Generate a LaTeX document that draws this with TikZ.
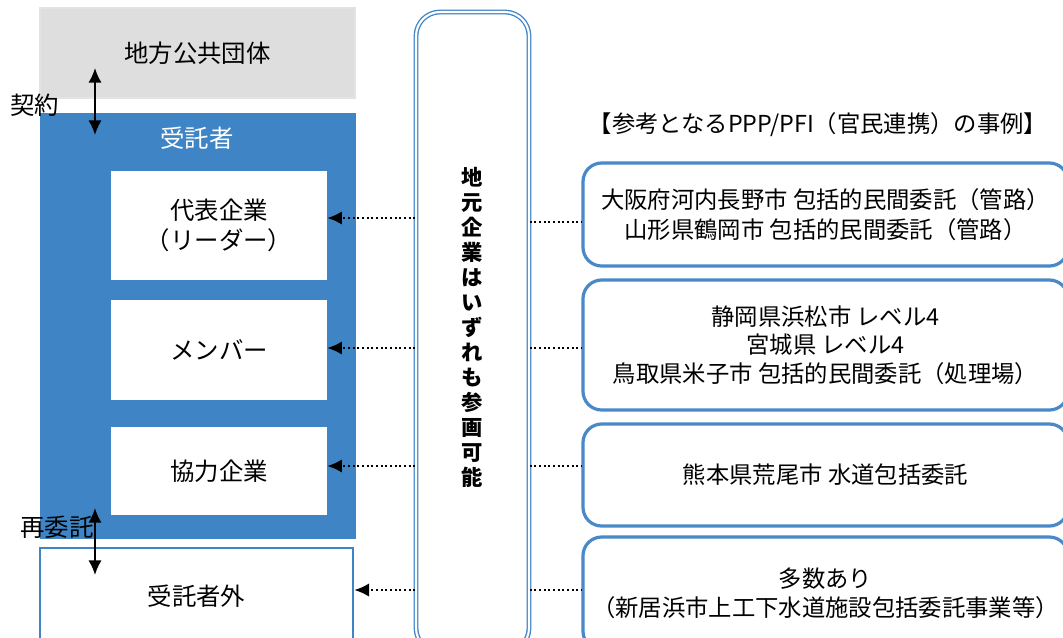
\documentclass[tikz,border=0pt]{standalone}
\usepackage{fontspec}
\setmainfont{Noto Sans CJK JP}
\usetikzlibrary{arrows.meta,calc}
\definecolor{ublue}{HTML}{3F85C6}
\definecolor{bblue}{HTML}{4A89C8}
\definecolor{ggray}{HTML}{DEDEDE}
\begin{document}
\begin{tikzpicture}[x=0.75pt,y=-0.75pt,
  txt/.style={font=\fontsize{18.3}{23}\selectfont, align=center},
  whitebox/.style={fill=white, draw=none, minimum width=216*0.75pt, inner sep=0pt, txt},
  casebox/.style={draw=bblue, line width=2.4pt, rounded corners=14pt, fill=white, minimum width=485*0.75pt, inner sep=0pt, font=\fontsize{17.5}{22}\selectfont, align=center},
  dotarrow/.style={dotted, line width=1.5pt, -{Latex[length=11pt,width=10pt]}},
  dotline/.style={dotted, line width=1.5pt},
  dblarrow/.style={line width=1.5pt, {Latex[length=11pt,width=10pt]}-{Latex[length=11pt,width=10pt]}}]
\clip (0,0) rectangle (1063,637);
\useasboundingbox (0,0) rectangle (1063,637);
\fill[white] (0,0) rectangle (1063,637);
% left column
\node[fill=ggray, draw=ggray!85, line width=1pt, minimum width=315*0.75pt, minimum height=90*0.75pt, txt] (gov) at (197.5,53) {地方公共団体};
\node[fill=ublue, draw=ublue, minimum width=315*0.75pt, minimum height=425*0.75pt, inner sep=0pt] (jutaku) at (197.5,325.5) {};
\node[txt, text=white] (jtitle) at (197,138) {受託者};
\node[whitebox, minimum height=109*0.75pt] (b1) at (219,225.5) {代表企業\\（リーダー）};
\node[whitebox, minimum height=100*0.75pt] (b2) at (219,350) {メンバー};
\node[whitebox, minimum height=88*0.75pt] (b3) at (219,471) {協力企業};
\node[fill=white, draw=ublue, line width=2pt, minimum width=313*0.75pt, minimum height=96*0.75pt, inner sep=0pt, txt] (b4) at (196.5,596) {受託者外};
% contract arrows
\coordinate (c1a) at (95,68);
\coordinate (c1b) at (95,135);
\draw[dblarrow] (c1a) -- (c1b);
\node[txt] (keiyaku) at (35,105) {契約};
\coordinate (c2a) at (95,508);
\coordinate (c2b) at (95,575);
\draw[dblarrow] (c2a) -- (c2b);
\node[txt] (saiitaku) at (57,527) {再委託};
% middle box
\node[draw=ublue, double=white, double distance=1.6pt, line width=1pt, rounded corners=18pt, minimum width=113*0.75pt, minimum height=640*0.75pt, inner sep=0pt] (mid) at (472.5,332) {};
\node[font=\bfseries\fontsize{16}{18.75}\selectfont, align=center] (midtxt) at (472,327) {地\\元\\企\\業\\は\\い\\ず\\れ\\も\\参\\画\\可\\能};
% heading
\node[font=\fontsize{17.5}{22}\selectfont] (head) at (818,125) {【参考となるPPP/PFI（官民連携）の事例】};
% right boxes
\node[casebox, minimum height=103*0.75pt] (r1) at (825.5,214.5) {大阪府河内長野市 包括的民間委託（管路）\\山形県鶴岡市 包括的民間委託（管路）};
\node[casebox, minimum height=130*0.75pt, font=\fontsize{17.5}{21.5}\selectfont] (r2) at (825.5,345) {静岡県浜松市 レベル4\\宮城県 レベル4\\鳥取県米子市 包括的民間委託（処理場）};
\node[casebox, minimum height=102*0.75pt] (r3) at (825.5,475) {熊本県荒尾市 水道包括委託};
\node[casebox, minimum height=113*0.75pt] (r4) at (825.5,593.5) {多数あり\\（新居浜市上工下水道施設包括委託事業等）};
% dotted connectors left
\draw[dotarrow] (mid.west |- 0,218) -- (b1.east |- 0,218);
\draw[dotarrow] (mid.west |- 0,348) -- (b2.east |- 0,348);
\draw[dotarrow] (mid.west |- 0,466) -- (b3.east |- 0,466);
\draw[dotarrow] (mid.west |- 0,590) -- (b4.east |- 0,590);
% dotted connectors right
\draw[dotline] (mid.east |- 0,222) -- (r1.west |- 0,222);
\draw[dotline] (mid.east |- 0,348) -- (r2.west |- 0,348);
\draw[dotline] (mid.east |- 0,466) -- (r3.west |- 0,466);
\draw[dotline] (mid.east |- 0,590) -- (r4.west |- 0,590);
\end{tikzpicture}
\end{document}
